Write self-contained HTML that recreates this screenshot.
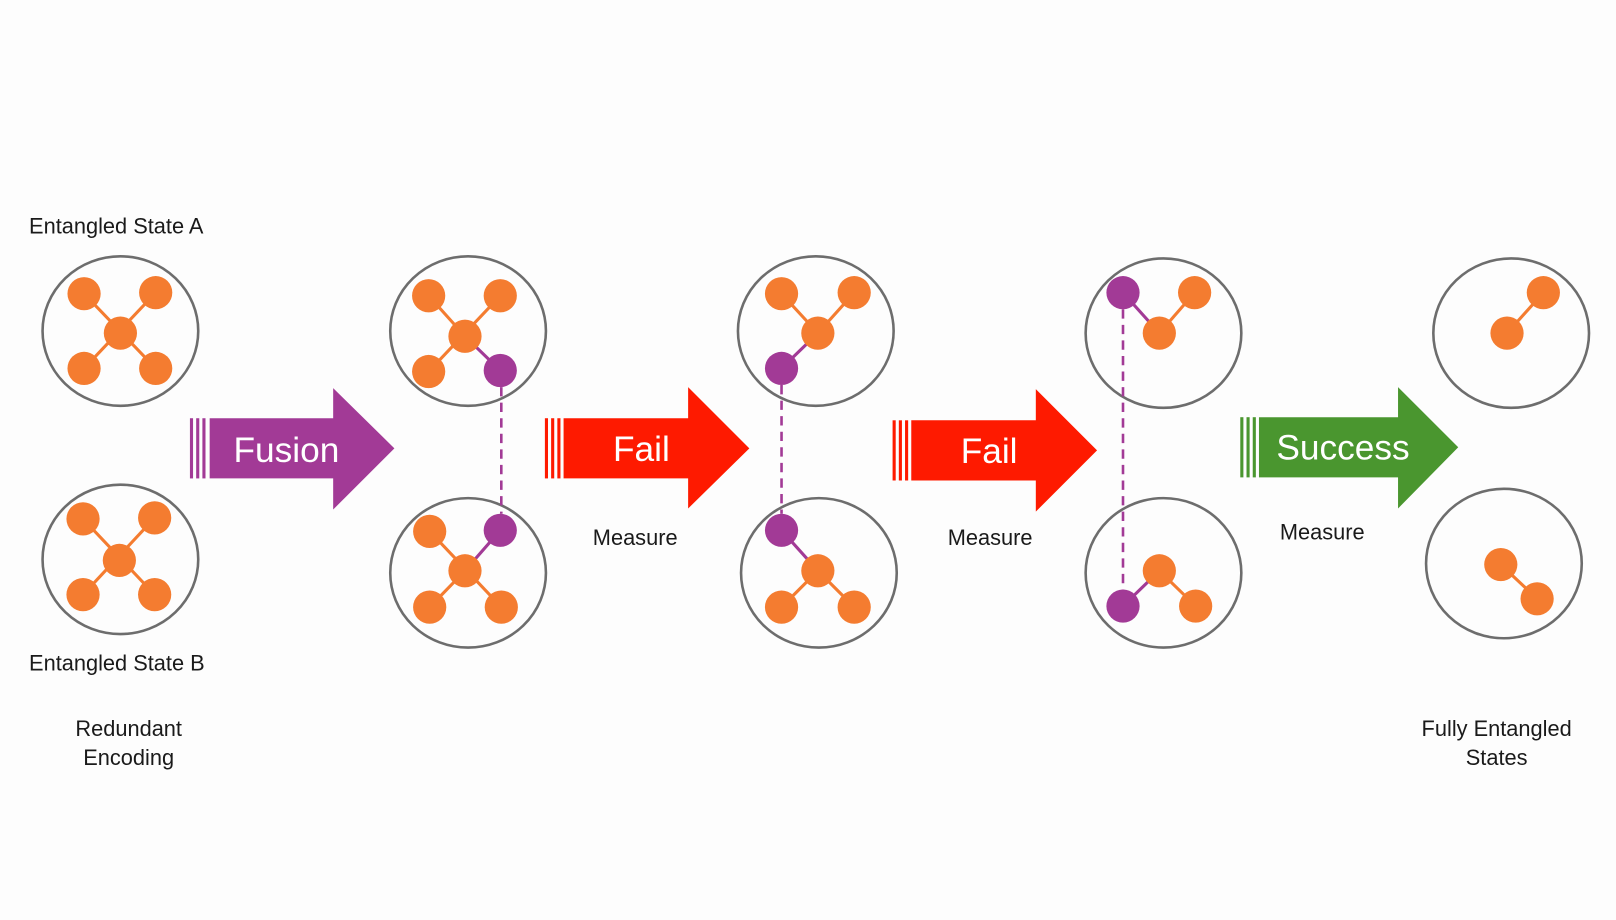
<!DOCTYPE html>
<html><head><meta charset="utf-8"><style>
html,body{margin:0;padding:0;background:#fdfdfd;}
svg{display:block;}
text{font-family:"Liberation Sans",sans-serif;}
</style></head><body>
<svg width="1616" height="920" viewBox="0 0 1557 886.5" preserveAspectRatio="none" xmlns="http://www.w3.org/2000/svg">
<rect width="1557" height="887" fill="#fdfdfd"/>
<g fill="none" stroke="#6d6d6d" stroke-width="2.5">
<ellipse cx="116" cy="319" rx="75" ry="72"/>
<ellipse cx="116" cy="539" rx="75" ry="72"/>
<ellipse cx="451" cy="319" rx="75" ry="72"/>
<ellipse cx="451" cy="552" rx="75" ry="72"/>
<ellipse cx="786" cy="319" rx="75" ry="72"/>
<ellipse cx="789" cy="552" rx="75" ry="72"/>
<ellipse cx="1121" cy="321" rx="75" ry="72"/>
<ellipse cx="1121" cy="552" rx="75" ry="72"/>
<ellipse cx="1456" cy="321" rx="75" ry="72"/>
<ellipse cx="1449" cy="543" rx="75" ry="72"/>
</g>
<g stroke="#f47c30" stroke-width="3">
<line x1="81" y1="283" x2="150" y2="355"/><line x1="150" y1="282" x2="81" y2="355"/>
<line x1="80" y1="500" x2="149" y2="573"/><line x1="149" y1="499" x2="80" y2="573"/>
<line x1="413" y1="285" x2="448" y2="324"/><line x1="482" y1="285" x2="413" y2="358"/>
<line x1="414" y1="585" x2="448" y2="550"/><line x1="414" y1="512" x2="483" y2="585"/>
<line x1="823" y1="282" x2="788" y2="321"/><line x1="753" y1="283" x2="788" y2="321"/>
<line x1="788" y1="550" x2="753" y2="585"/><line x1="788" y1="550" x2="823" y2="585"/>
<line x1="1151" y1="282" x2="1117" y2="321"/>
<line x1="1117" y1="550" x2="1152" y2="584"/>
<line x1="1487" y1="282" x2="1452" y2="321"/>
<line x1="1446" y1="544" x2="1481" y2="577"/>
</g>
<g stroke="#a23a96" stroke-width="3">
<line x1="448" y1="324" x2="482" y2="357"/>
<line x1="482" y1="511" x2="448" y2="550"/>
<line x1="753" y1="355" x2="788" y2="321"/>
<line x1="753" y1="511" x2="788" y2="550"/>
<line x1="1082" y1="282" x2="1117" y2="321"/>
<line x1="1082" y1="584" x2="1117" y2="550"/>
</g>
<g stroke="#a23a96" stroke-width="2.5" stroke-dasharray="9,6">
<line x1="483" y1="373" x2="483" y2="495"/>
<line x1="753" y1="371" x2="753" y2="495"/>
<line x1="1082" y1="298" x2="1082" y2="570"/>
</g>
<g fill="#f47c30">
<circle cx="81" cy="283" r="16"/><circle cx="150" cy="282" r="16"/><circle cx="116" cy="321" r="16"/><circle cx="81" cy="355" r="16"/><circle cx="150" cy="355" r="16"/>
<circle cx="80" cy="500" r="16"/><circle cx="149" cy="499" r="16"/><circle cx="115" cy="540" r="16"/><circle cx="80" cy="573" r="16"/><circle cx="149" cy="573" r="16"/>
<circle cx="413" cy="285" r="16"/><circle cx="482" cy="285" r="16"/><circle cx="448" cy="324" r="16"/><circle cx="413" cy="358" r="16"/>
<circle cx="414" cy="512" r="16"/><circle cx="448" cy="550" r="16"/><circle cx="414" cy="585" r="16"/><circle cx="483" cy="585" r="16"/>
<circle cx="753" cy="283" r="16"/><circle cx="823" cy="282" r="16"/><circle cx="788" cy="321" r="16"/>
<circle cx="788" cy="550" r="16"/><circle cx="753" cy="585" r="16"/><circle cx="823" cy="585" r="16"/>
<circle cx="1151" cy="282" r="16"/><circle cx="1117" cy="321" r="16"/>
<circle cx="1117" cy="550" r="16"/><circle cx="1152" cy="584" r="16"/>
<circle cx="1487" cy="282" r="16"/><circle cx="1452" cy="321" r="16"/>
<circle cx="1446" cy="544" r="16"/><circle cx="1481" cy="577" r="16"/>
</g>
<g fill="#a23a96">
<circle cx="482" cy="357" r="16"/><circle cx="482" cy="511" r="16"/>
<circle cx="753" cy="355" r="16"/><circle cx="753" cy="511" r="16"/>
<circle cx="1082" cy="282" r="16"/><circle cx="1082" cy="584" r="16"/>
</g>
<!-- arrows -->
<g fill="#a23a96">
<rect x="183" y="403" width="3" height="58"/><rect x="189" y="403" width="3" height="58"/><rect x="195" y="403" width="3" height="58"/>
<polygon points="202,403 321,403 321,374 380,432 321,491 321,461 202,461"/>
</g>
<g fill="#fe1a00">
<rect x="525" y="403" width="3" height="58"/><rect x="531" y="403" width="3" height="58"/><rect x="537" y="403" width="3" height="58"/>
<polygon points="543,403 663,403 663,373 722,432 663,490 663,461 543,461"/>
<rect x="860" y="405" width="3" height="58"/><rect x="866" y="405" width="3" height="58"/><rect x="872" y="405" width="3" height="58"/>
<polygon points="878,405 998,405 998,375 1057,434 998,493 998,463 878,463"/>
</g>
<g fill="#4a962f">
<rect x="1195" y="402" width="3" height="58"/><rect x="1201" y="402" width="3" height="58"/><rect x="1207" y="402" width="3" height="58"/>
<polygon points="1213,402 1347,402 1347,373 1405,431 1347,490 1347,460 1213,460"/>
</g>
<g fill="#fff" font-size="34" text-anchor="middle">
<text x="276" y="445">Fusion</text>
<text x="618" y="444">Fail</text>
<text x="953" y="446">Fail</text>
<text x="1294" y="443">Success</text>
</g>
<g fill="#1a1a1a" font-size="21">
<text x="28" y="225">Entangled State A</text>
<text x="28" y="646">Entangled State B</text>
<text x="612" y="525" text-anchor="middle">Measure</text>
<text x="954" y="525" text-anchor="middle">Measure</text>
<text x="1274" y="520" text-anchor="middle">Measure</text>
<text x="124" y="709" text-anchor="middle">Redundant</text>
<text x="124" y="737" text-anchor="middle">Encoding</text>
<text x="1442" y="709" text-anchor="middle">Fully Entangled</text>
<text x="1442" y="737" text-anchor="middle">States</text>
</g>
</svg>
</body></html>
